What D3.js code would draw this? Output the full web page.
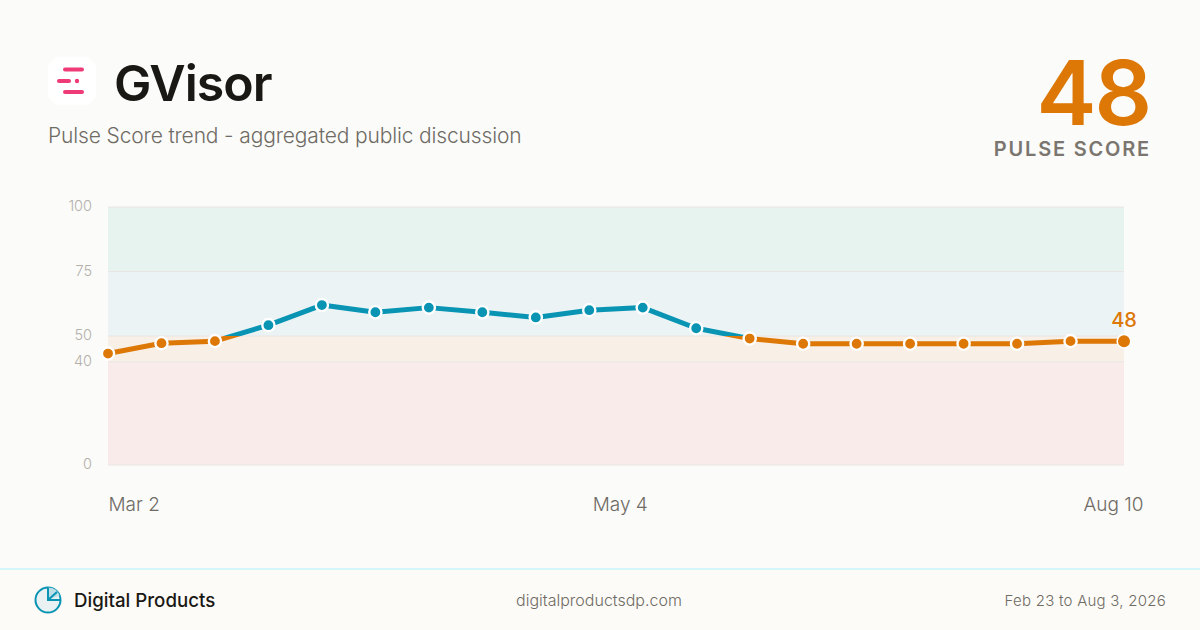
<!DOCTYPE html>
<html><head><meta charset="utf-8">
<script src="https://cdn.jsdelivr.net/npm/d3@7"></script>
<style>html,body{margin:0;padding:0;background:#fbfbf9}svg{display:block}text{font-family:Inter,"Noto Sans",sans-serif}</style>
</head><body><svg id="c" width="1200" height="630"></svg>
<script>
const values=[43.2,47.2,48,54.2,62,59.2,61,59.2,57.2,60,61,53,49,47,47,47,47,47,48,48];
const tickValues=[0,40,50,75,100];
const bandEdges=[0,40,50,75,100];
const bandColors=["#f9ebe9","#f8efe6","#ebf3f5","#e7f3ee"];
const dateLabels=["Mar 2","May 4","Aug 10"];
const dateIndexes=[0,9.57,19];
const ORANGE="#dd7706",TEAL="#0a94b4";
const svg=d3.select("#c");
svg.append("rect").attr("width",1200).attr("height",630).attr("fill","#fbfbf9");
const x=d3.scaleLinear().domain([0,values.length-1]).range([108,1124]);
const y=d3.scaleLinear().domain([0,100]).range([465,207]);
bandColors.forEach((c,i)=>svg.append("rect").attr("x",108).attr("width",1016)
 .attr("y",y(bandEdges[i+1])).attr("height",y(bandEdges[i])-y(bandEdges[i+1])).attr("fill",c));
tickValues.forEach(t=>svg.append("line").attr("x1",108).attr("x2",1124).attr("y1",y(t)).attr("y2",y(t))
 .attr("stroke","#e8e6e3").attr("stroke-width",1));
const yAxis=d3.axisLeft(y).tickValues(tickValues).tickSize(0).tickPadding(0);
const ga=svg.append("g").attr("transform","translate(92,-1)").call(yAxis);
ga.select(".domain").remove();
ga.selectAll("text").attr("fill","#b3b0aa").attr("font-size",14.5).style("font-family","Inter").attr("font-weight",300);
const xAxis=d3.axisBottom(x).tickValues(dateIndexes).tickFormat((d,i)=>dateLabels[i]).tickSize(0).tickPadding(0);
const gx=svg.append("g").attr("transform","translate(0,497)").call(xAxis);
gx.select(".domain").remove();
gx.selectAll("text").attr("fill","#6f6b65").attr("font-size",19).attr("font-weight",300).attr("text-anchor",(d,i)=>i==0?"start":i==2?"end":"middle")
 .attr("dx",(d,i)=>i==2?19:0);
const defs=svg.append("defs");
defs.append("clipPath").attr("id","above").append("rect").attr("x",0).attr("width",1200).attr("y",0).attr("height",y(50));
defs.append("clipPath").attr("id","below").append("rect").attr("x",0).attr("width",1200).attr("y",y(50)).attr("height",630-y(50));
const line=d3.line().x((d,i)=>x(i)).y(d=>y(d));
[["above",TEAL],["below",ORANGE]].forEach(([id,c])=>svg.append("path").attr("d",line(values))
 .attr("clip-path",`url(#${id})`).attr("fill","none").attr("stroke",c).attr("stroke-width",5).attr("stroke-linejoin","round"));
const last=values.length-1;
svg.append("g").selectAll("circle").data(values).join("circle")
 .attr("cx",(d,i)=>x(i)).attr("cy",d=>y(d)).attr("r",(d,i)=>i==last?6.8:6.1)
 .attr("fill",d=>d>=50?TEAL:ORANGE).attr("stroke","#fff").attr("stroke-width",(d,i)=>i==last?1.6:2.4);
svg.append("text").attr("x",1124).attr("y",327).attr("text-anchor","middle").attr("fill",ORANGE).attr("font-size",20).attr("font-weight",500).text(values[last].toFixed(0));
svg.append("rect").attr("x",48).attr("y",57).attr("width",48).attr("height",48).attr("rx",12).attr("fill","#fff");
[[65,82,69.5],[59,69,81],[65,82,92]].forEach(b=>svg.append("line").attr("x1",b[0]).attr("x2",b[1]).attr("y1",b[2]).attr("y2",b[2])
 .attr("stroke","#ee3a76").attr("stroke-width",4).attr("stroke-linecap","round"));
svg.append("circle").attr("cx",77).attr("cy",81).attr("r",2.2).attr("fill","#ee3a76");
svg.append("text").attr("x",114).attr("y",101).attr("font-size",50).attr("font-weight",600).attr("letter-spacing",-1).attr("fill","#1a1815").text("GVisor");
svg.append("text").attr("x",48).attr("y",143).attr("font-size",21).attr("font-weight",300).attr("letter-spacing",-0.14).attr("fill","#6f6b65").text("Pulse Score trend - aggregated public discussion");
svg.append("text").attr("x",1150).attr("y",125).attr("text-anchor","end").attr("font-size",90).attr("font-weight",600).attr("letter-spacing",-2).attr("fill",ORANGE).text("48");
svg.append("text").attr("x",1151).attr("y",156).attr("text-anchor","end").attr("font-size",20).attr("font-weight",600).attr("letter-spacing",1.8).attr("fill","#7a766f").text("PULSE SCORE");
svg.append("rect").attr("y",569).attr("width",1200).attr("height",61).attr("fill","#fdfbf7");
svg.append("rect").attr("y",568).attr("width",1200).attr("height",2).attr("fill","#d2f6fa");
const ic=svg.append("g").attr("transform","translate(48,600)");
ic.append("circle").attr("r",12.5).attr("fill","#e9f1f3").attr("stroke",TEAL).attr("stroke-width",2);
ic.append("path").attr("d",d3.arc()({innerRadius:0,outerRadius:12.5,startAngle:0,endAngle:Math.PI/2.6})).attr("fill","#bfdfe8");
ic.append("path").attr("d","M0,-12.5V0H12.5").attr("fill","none").attr("stroke",TEAL).attr("stroke-width",2);
ic.append("path").attr("d","M0,0L9,-8").attr("stroke",TEAL).attr("stroke-width",2);
svg.append("text").attr("x",74).attr("y",607).attr("font-size",18.7).attr("font-weight",500).attr("fill","#1a1815").text("Digital Products");
svg.append("text").attr("x",599).attr("y",606).attr("text-anchor","middle").attr("font-size",16).attr("font-weight",300).attr("fill","#6f6b65").text("digitalproductsdp.com");
svg.append("text").attr("x",1166).attr("y",606).attr("text-anchor","end").attr("font-size",15).attr("font-weight",300).attr("letter-spacing",0.25).attr("fill","#6f6b65").text("Feb 23 to Aug 3, 2026");
</script></body></html>
